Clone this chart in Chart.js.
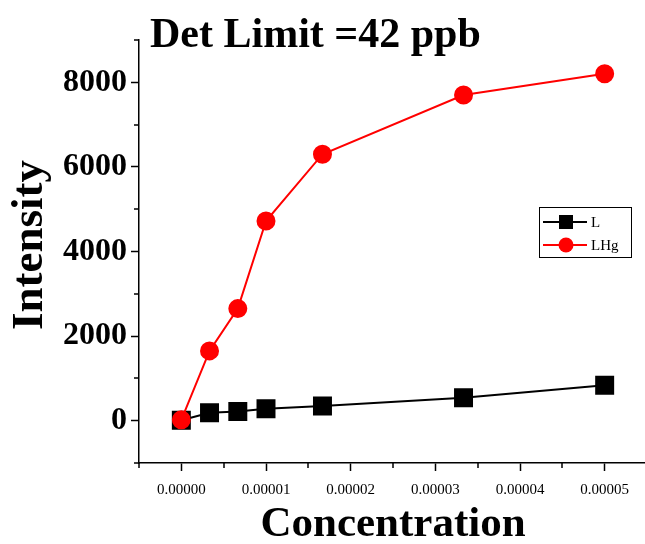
<!DOCTYPE html>
<html>
<head>
<meta charset="utf-8">
<script src="https://cdn.jsdelivr.net/npm/chart.js@4/dist/chart.umd.min.js"></script>
<style>
  html, body { margin: 0; padding: 0; background: #fff; overflow: hidden; }
  #wrap { width: 647px; height: 544px; }
</style>
</head>
<body>
<div id="wrap"><canvas id="myChart"></canvas></div>
<script>
const concentration = [0, 0.00000333, 0.00000667, 0.00001, 0.00001667, 0.00003333, 0.00005];
const intensityL = [10, 190, 220, 280, 350, 540, 840];
const intensityLHg = [20, 1650, 2650, 4720, 6300, 7700, 8200];
const xTicks = [0, 0.00001, 0.00002, 0.00003, 0.00004, 0.00005];
const xMinorTicks = [-0.000005, 0.000005, 0.000015, 0.000025, 0.000035, 0.000045, 0.000055];
const yTicks = [0, 2000, 4000, 6000, 8000];
const yMinorTicks = [-1000, 1000, 3000, 5000, 7000, 9000];
const titleText = "Det Limit =42 ppb";

const serif = "'Liberation Serif', 'Times New Roman', serif";
Chart.defaults.color = "#000";
Chart.defaults.font.family = serif;

const toPoints = (ys) => concentration.map((x, i) => ({ x: x, y: ys[i] }));

// short ticks between the labelled ones, plus the title and the boxed legend
const extras = {
  id: "extras",
  afterDraw(chart) {
    const ctx = chart.ctx;
    const xs = chart.scales.x;
    const ys = chart.scales.y;
    const area = chart.chartArea;
    ctx.save();
    ctx.strokeStyle = "#000";
    ctx.lineWidth = 1.5;
    ctx.beginPath();
    xMinorTicks.forEach((v) => {
      const px = Math.round(xs.getPixelForValue(v));
      ctx.moveTo(px, area.bottom);
      ctx.lineTo(px, area.bottom + 5);
    });
    yMinorTicks.forEach((v) => {
      const py = Math.round(ys.getPixelForValue(v));
      ctx.moveTo(area.left, py);
      ctx.lineTo(area.left - 5, py);
    });
    ctx.stroke();

    ctx.fillStyle = "#000";
    ctx.font = "bold 42px " + serif;
    ctx.textBaseline = "alphabetic";
    ctx.textAlign = "left";
    ctx.fillText(titleText, area.left + 11, 47);

    // y axis title, sits a little above the middle of the axis
    ctx.save();
    ctx.translate(30, 245);
    ctx.rotate(-Math.PI / 2);
    ctx.textAlign = "center";
    ctx.textBaseline = "middle";
    ctx.font = "bold 45px " + serif;
    ctx.fillText("Intensity", 0, 0);
    ctx.restore();

    // legend box
    const bx = 539, by = 207, bw = 92, bh = 50;
    ctx.lineWidth = 1;
    ctx.strokeRect(bx + 0.5, by + 0.5, bw, bh);
    ctx.font = "15px " + serif;
    ctx.textBaseline = "middle";
    chart.data.datasets.forEach((ds, i) => {
      const cy = by + 15 + i * 23;
      ctx.strokeStyle = ds.borderColor;
      ctx.lineWidth = 2;
      ctx.beginPath();
      ctx.moveTo(bx + 4, cy);
      ctx.lineTo(bx + 48, cy);
      ctx.stroke();
      ctx.fillStyle = ds.pointBackgroundColor;
      if (ds.pointStyle === "rect") {
        ctx.fillRect(bx + 20, cy - 7, 14, 14);
      } else {
        ctx.beginPath();
        ctx.arc(bx + 27, cy, 7.5, 0, Math.PI * 2);
        ctx.fill();
      }
      ctx.fillStyle = "#000";
      ctx.fillText(ds.label, bx + 52, cy + 1);
    });
    ctx.restore();
  },
};

const config = {
  type: "line",
  data: {
    datasets: [
      {
        label: "L",
        data: toPoints(intensityL),
        borderColor: "#000",
        backgroundColor: "#000",
        pointBackgroundColor: "#000",
        pointBorderColor: "#000",
        pointStyle: "rect",
        pointRadius: 12,
        borderWidth: 2,
        order: 2,
      },
      {
        label: "LHg",
        data: toPoints(intensityLHg),
        borderColor: "#ff0000",
        backgroundColor: "#ff0000",
        pointBackgroundColor: "#ff0000",
        pointBorderColor: "#ff0000",
        pointStyle: "circle",
        pointRadius: 8.5,
        borderWidth: 2,
        order: 1,
      },
    ],
  },
  options: {
    responsive: true,
    maintainAspectRatio: false,
    animation: false,
    events: [],
    layout: { autoPadding: false, padding: { top: 40, right: 0, left: 0, bottom: 0 } },
    plugins: { legend: { display: false }, tooltip: { enabled: false } },
    scales: {
      x: {
        type: "linear",
        min: -0.000005,
        max: 0.000055,
        afterFit: (scale) => { scale.height = 81; },
        afterBuildTicks: (scale) => { scale.ticks = xTicks.map((v) => ({ value: v })); },
        ticks: {
          padding: 10,
          maxRotation: 0,
          font: { size: 15 },
          callback: (v) => v.toFixed(5),
        },
        grid: { drawOnChartArea: false, tickLength: 8, tickColor: "#000", tickWidth: 1.5 },
        border: { color: "#000", width: 1.5 },
        title: {
          display: true,
          text: "Concentration",
          font: { size: 43, weight: "bold", lineHeight: 1 },
          padding: { top: 0, bottom: -2 },
        },
      },
      y: {
        type: "linear",
        min: -1000,
        max: 9000,
        afterFit: (scale) => { scale.width = 139; },
        afterBuildTicks: (scale) => { scale.ticks = yTicks.map((v) => ({ value: v })); },
        ticks: {
          padding: 4,
          font: { size: 32, weight: "bold" },
          callback: (v) => String(v),
        },
        grid: { drawOnChartArea: false, tickLength: 8, tickColor: "#000", tickWidth: 1.5 },
        border: { color: "#000", width: 1.5 },
      },
    },
  },
  plugins: [extras],
};

new Chart(document.getElementById("myChart").getContext("2d"), config);
</script>
</body>
</html>
